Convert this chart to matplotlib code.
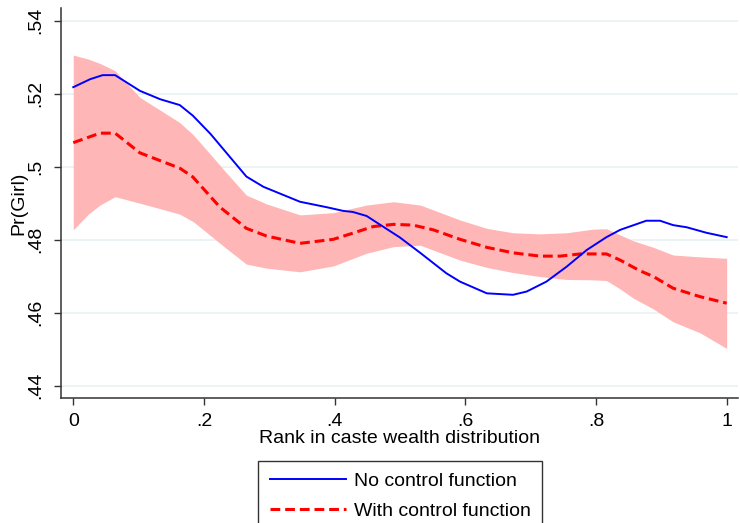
import numpy as np
import matplotlib
matplotlib.use("Agg")
import matplotlib.pyplot as plt

plt.rcParams['font.family'] = ['Liberation Sans', 'DejaVu Sans']

# No control function (blue line)
x_blue = [0, 0.026, 0.045, 0.064, 0.102, 0.133, 0.163, 0.183, 0.21, 0.265,
          0.291, 0.347, 0.388, 0.413, 0.428, 0.449, 0.474, 0.5, 0.531, 0.571,
          0.592, 0.633, 0.673, 0.694, 0.724, 0.755, 0.786, 0.816, 0.837, 0.877,
          0.898, 0.918, 0.939, 0.969, 1.0]
y_blue = [0.5218, 0.524, 0.5251, 0.5251, 0.5208, 0.5185, 0.5169, 0.514, 0.509, 0.4973,
          0.4945, 0.4904, 0.4889, 0.4879, 0.4876, 0.4865, 0.4836, 0.4806, 0.4764, 0.4708,
          0.4685, 0.4653, 0.4649, 0.4658, 0.4685, 0.4726, 0.4772, 0.4807, 0.4827, 0.4852,
          0.4852, 0.4840, 0.4834, 0.4819, 0.4807]

# With control function (red dashed line)
x_red = [0, 0.041, 0.064, 0.102, 0.163, 0.183, 0.194, 0.224, 0.265, 0.296,
         0.347, 0.398, 0.428, 0.459, 0.49, 0.52, 0.551, 0.592, 0.633, 0.673,
         0.714, 0.745, 0.776, 0.816, 0.837, 0.867, 0.888, 0.918, 0.959, 1.0]
y_red = [0.5066, 0.5092, 0.5092, 0.5038, 0.4996, 0.4972, 0.4950, 0.4890, 0.4831, 0.4810,
         0.4790, 0.4801, 0.4818, 0.4836, 0.4842, 0.4840, 0.4827, 0.4801, 0.4779, 0.4764,
         0.4755, 0.4755, 0.4761, 0.4761, 0.4744, 0.4715, 0.4699, 0.4667, 0.4644, 0.4626]

# confidence band
x_band = [0, 0.023, 0.041, 0.064, 0.102, 0.133, 0.163, 0.184, 0.204, 0.235,
          0.265, 0.296, 0.347, 0.398, 0.449, 0.49, 0.531, 0.592, 0.633, 0.673,
          0.714, 0.755, 0.796, 0.816, 0.837, 0.857, 0.888, 0.918, 0.959, 1.0]
band_hi = [0.5306, 0.5295, 0.5283, 0.5263, 0.5190, 0.5155, 0.5121, 0.5087, 0.5046, 0.4982,
           0.4922, 0.4898, 0.4868, 0.4874, 0.4895, 0.4904, 0.4895, 0.4854, 0.4831, 0.4819,
           0.4816, 0.4819, 0.4829, 0.4830, 0.4813, 0.4797, 0.4779, 0.4758, 0.4753, 0.4749]
band_lo = [0.4827, 0.4870, 0.4895, 0.4918, 0.4900, 0.4885, 0.4870, 0.4849, 0.4820, 0.4775,
           0.4733, 0.4722, 0.4712, 0.4728, 0.4763, 0.4781, 0.4785, 0.4744, 0.4724, 0.4710,
           0.4699, 0.4691, 0.4690, 0.4688, 0.4665, 0.4640, 0.4610, 0.4575, 0.4545, 0.4502]

xticks = [0, 0.2, 0.4, 0.6, 0.8, 1.0]
xticklabels = ['0', '.2', '.4', '.6', '.8', '1']
yticks = [0.44, 0.46, 0.48, 0.50, 0.52, 0.54]
yticklabels = ['.44', '.46', '.48', '.5', '.52', '.54']

fig = plt.figure(figsize=(7.4, 5.23), dpi=100)
ax = fig.add_axes([0.0824, 0.2396, 0.9146, 0.7444])

for yt in yticks:
    ax.axhline(yt, color='#eaf2f3', lw=1.3, zorder=0)

ax.fill_between(x_band, band_lo, band_hi, color='#ffb6b6', lw=0, zorder=1)
ax.plot(x_blue, y_blue, color='#0000ff', lw=1.4, zorder=3, label='No control function')
ax.plot(x_red, y_red, color='#ff0000', lw=2.2, dashes=(3.2, 1.6), zorder=2,
        label='With control function')

ax.set_xlim(-0.0188, 1.017)
ax.set_ylim(0.4367, 0.5434)
ax.set_xticks(xticks)
ax.set_xticklabels(xticklabels)
ax.set_yticks(yticks)
ax.set_yticklabels(yticklabels, rotation=90, va='center')
ax.tick_params(axis='both', labelsize=14, length=5, width=1, color='#333333')
ax.tick_params(axis='x', pad=6)
ax.tick_params(axis='y', pad=7)

for s in ['top', 'right']:
    ax.spines[s].set_visible(False)
for s in ['left', 'bottom']:
    ax.spines[s].set_color('#333333')
    ax.spines[s].set_linewidth(1.1)

ax.set_xlabel('Rank in caste wealth distribution', fontsize=14, labelpad=0)
ax.set_ylabel('Pr(Girl)', fontsize=14, labelpad=0)

leg = fig.legend(loc='upper center', bbox_to_anchor=(0.541, 0.1185), ncol=1,
                 fontsize=14, frameon=True, fancybox=False, edgecolor='black',
                 handlelength=3.9, borderpad=0.6, labelspacing=0.6, handletextpad=0.4,
                 borderaxespad=0)
leg.get_frame().set_linewidth(1.0)

fig.savefig('out.png', dpi=100, facecolor='white')
